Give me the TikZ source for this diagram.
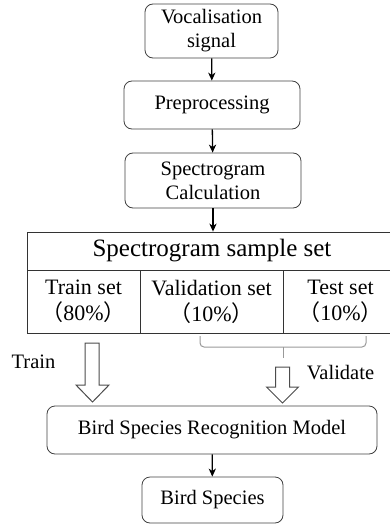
\documentclass[tikz,border=0pt]{standalone}
\usepackage{fontspec}
\usetikzlibrary{arrows.meta}
\setmainfont{Liberation Serif}
\newfontfamily\cjk{Noto Sans CJK SC}
\begin{document}
\begin{tikzpicture}[x=0.5pt, y=-0.5pt,
    box/.style={draw=black!75, rounded corners=4pt, align=center, inner sep=0pt,
      font=\fontsize{10.25}{12}\selectfont},
    cell/.style={draw=black!80, align=center, inner sep=0pt,
      minimum height=31.5pt, font=\fontsize{11}{13}\selectfont},
    link/.style={-{Stealth[length=4pt, width=3.6pt, inset=1.2pt]}, line width=0.65pt},
    hollow/.style={draw=black!70, fill=white, line width=0.5pt}]
  \useasboundingbox (0, 0) rectangle (390, 524);
  \node[box, minimum width=66.5pt, minimum height=27pt] (voc) at (211.5, 31) {Vocalisation\\signal};
  \node[box, minimum width=88pt, minimum height=24pt] (pre) at (212, 105) {Preprocessing};
  \node[box, minimum width=88pt, minimum height=27.5pt] (spec) at (213, 180.5) {Spectrogram\\Calculation};
  \node[draw=black!80, inner sep=0pt, minimum width=192pt, minimum height=19pt] (sampleset) at (219, 251) {};
  \node[font=\fontsize{12.5}{14}\selectfont] (sampletxt) at (212, 251) {Spectrogram sample set};
  \node[cell, minimum width=56.5pt] (trainset) at (83.5, 301.5) {Train set\\{\cjk （}80\%{\cjk ）}};
  \node[cell, minimum width=71.5pt] (validset) at (211.5, 301.5) {Validation set\\{\cjk （}10\%{\cjk ）}};
  \node[cell, minimum width=64pt] (testset) at (347.5, 301.5) {};
  \node[font=\fontsize{11}{13}\selectfont, align=center] (testtxt) at (340.5, 301.5) {Test set\\{\cjk （}10\%{\cjk ）}};
  \node[box, minimum width=165pt, minimum height=24pt] (model) at (212, 430) {Bird Species Recognition Model};
  \node[box, minimum width=70.5pt, minimum height=23pt] (bird) at (212.5, 500) {Bird Species};
  \node[font=\fontsize{10.25}{12}\selectfont] (trainlbl) at (33.5, 362) {Train};
  \node[font=\fontsize{10.25}{12}\selectfont] (validlbl) at (340.5, 373) {Validate};
  \draw[link] (voc) -- (pre);
  \draw[link] (pre) -- (spec);
  \draw[link] (spec) -- (spec |- sampleset.north);
  \draw[link] (model) -- (bird);
  % brace under validation and test set
  \draw[black!40, line width=0.5pt, rounded corners=2pt]
    (200, 336) -- (200, 347) -- (366, 347) -- (366, 336);
  \draw[black!40, line width=0.5pt] (283, 347) -- (283, 358);
  % hollow arrows into the model
  \draw[hollow] (85, 343) -- (99, 343) -- (99, 385) -- (109, 385) -- (92.5, 402)
    -- (76, 385) -- (85, 385) -- cycle;
  \draw[hollow] (275.5, 367) -- (289.5, 367) -- (289.5, 387) -- (298.5, 387) -- (282.5, 403)
    -- (266.5, 387) -- (275.5, 387) -- cycle;
\end{tikzpicture}
\end{document}
